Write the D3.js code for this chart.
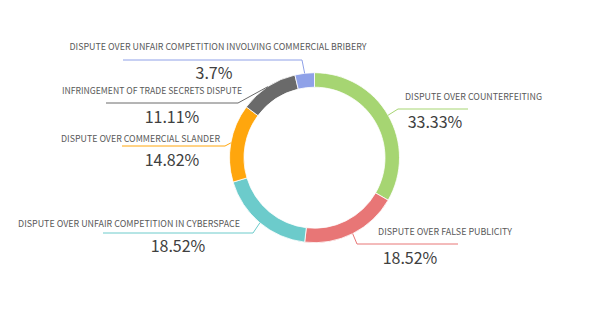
<!DOCTYPE html>
<html><head><meta charset="utf-8">
<script src="https://cdn.jsdelivr.net/npm/d3@7"></script>
<style>
html,body{margin:0;padding:0;background:#fff;}
svg{display:block;}
</style></head>
<body>
<svg id="chart" width="606" height="322"></svg>
<script>
// ---- data ----
const categories = [
  "DISPUTE OVER COUNTERFEITING",
  "DISPUTE OVER FALSE PUBLICITY",
  "DISPUTE OVER UNFAIR COMPETITION IN CYBERSPACE",
  "DISPUTE OVER COMMERCIAL SLANDER",
  "INFRINGEMENT OF TRADE SECRETS DISPUTE",
  "DISPUTE OVER UNFAIR COMPETITION INVOLVING COMMERCIAL BRIBERY"
];
const values = [33.33, 18.52, 18.52, 14.82, 11.11, 3.7];
const percentLabels = ["33.33%", "18.52%", "18.52%", "14.82%", "11.11%", "3.7%"];
const colors = ["#a6d572", "#e87676", "#6ccbcb", "#ffa60d", "#6a6a6a", "#8fa1e8"];

// ---- layout (label placement, pixels) ----
const cx = 314.5, cy = 157.7, rOuter = 85, rInner = 70.5;
const labelLayout = [
  {bend:[398,109], end:468, name:[473.5,96], w:137, pct:[435,121]},
  {bend:[357,244], end:458, name:[445,231], w:134, pct:[410,257]},
  {bend:[253,233], end:103, name:[129,223], w:222, pct:[178,245]},
  {bend:[225,146], end:122, name:[140.5,138], w:159, pct:[172,159]},
  {bend:[238,103], end:106, name:[152,90], w:180, pct:[172,116]},
  {bend:[302,60], end:123, name:[218,45.5], w:297, pct:[214,72]}
];

const svg = d3.select("#chart");
const g = svg.append("g").attr("transform", `translate(${cx},${cy})`);

const pie = d3.pie().sort(null).value(d => d)(values);
const arc = d3.arc().innerRadius(rInner).outerRadius(rOuter);
const edgeArc = d3.arc().innerRadius(rOuter).outerRadius(rOuter);

// leader lines (under the ring)
const lines = svg.append("g");
pie.forEach((p, i) => {
  const L = labelLayout[i];
  const c = edgeArc.centroid(p);
  const pts = [[cx + c[0], cy + c[1]], L.bend, [L.end, L.bend[1]]];
  lines.append("path")
    .attr("d", d3.line()(pts))
    .attr("fill", "none")
    .attr("stroke", colors[i])
    .attr("stroke-width", 1);
});

g.selectAll("path.slice").data(pie).join("path")
  .attr("class", "slice")
  .attr("d", arc)
  .attr("fill", (d, i) => colors[i])
  .attr("stroke", "#fff")
  .attr("stroke-width", 0.8);

const labels = svg.append("g").attr("font-family", "'Noto Sans CJK SC', 'Noto Sans', sans-serif");
pie.forEach((p, i) => {
  const L = labelLayout[i];
  labels.append("text")
    .attr("x", L.name[0]).attr("y", L.name[1])
    .attr("text-anchor", "middle").attr("dominant-baseline", "central")
    .attr("font-size", 9.2).attr("fill", "#595959")
    .attr("textLength", L.w).attr("lengthAdjust", "spacingAndGlyphs")
    .text(categories[i]);
  labels.append("text")
    .attr("x", L.pct[0]).attr("y", L.pct[1])
    .attr("text-anchor", "middle").attr("dominant-baseline", "central")
    .attr("font-size", 16).attr("fill", "#404040")
    .text(percentLabels[i]);
});
</script>
</body></html>
